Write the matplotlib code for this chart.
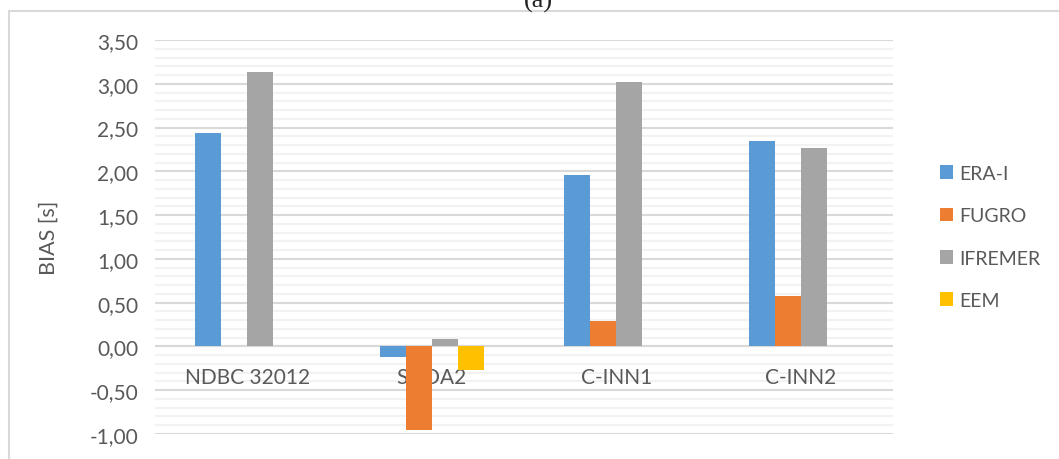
import matplotlib.pyplot as plt
import numpy as np
from matplotlib.patches import Rectangle
from matplotlib.ticker import MultipleLocator, FuncFormatter

estacoes = ['NDBC 32012', 'SHOA2', 'C-INN1', 'C-INN2']
era_i = [2.44, -0.12, 1.96, 2.35]
fugro = [np.nan, -0.95, 0.29, 0.58]
ifremer = [3.13, 0.09, 3.02, 2.27]
eem = [np.nan, -0.27, np.nan, np.nan]

series = {'ERA-I': era_i, 'FUGRO': fugro, 'IFREMER': ifremer, 'EEM': eem}
cores = ['#5B9BD5', '#ED7D31', '#A5A5A5', '#FFC000']

plt.rcParams['font.family'] = ['Lato', 'DejaVu Sans']
cinza = '#595959'

fig = plt.figure(figsize=(10.59, 4.60), dpi=100)
ax = fig.add_axes([155 / 1059, 1 - 435 / 460, 738 / 1059, 394 / 460])

x = np.arange(len(estacoes))
w = 0.141
for k, (nome, vals) in enumerate(series.items()):
    ax.bar(x + (k - 1.5) * w, vals, w, color=cores[k], label=nome, linewidth=0, zorder=3)

ax.set_xlim(-0.5, len(estacoes) - 0.5)
ax.set_ylim(-1.0, 3.5)
ax.yaxis.set_major_locator(MultipleLocator(0.5))
ax.yaxis.set_minor_locator(MultipleLocator(0.1))
ax.yaxis.set_major_formatter(FuncFormatter(lambda v, p: f'{v:.2f}'.replace('.', ',')))
ax.grid(True, which='major', axis='y', color='#d9d9d9', lw=1.5)
ax.grid(True, which='minor', axis='y', color='#f2f2f2', lw=1.5)
ax.axhline(0, color='#d9d9d9', lw=1.5, zorder=2.6)

for s in ax.spines.values():
    s.set_visible(False)
ax.set_xticks([])
# rótulos das categorias logo abaixo do zero, por cima da grelha e por baixo das barras
for xi, nome in zip(x, estacoes):
    ax.annotate(nome, (xi, 0), xytext=(0, -15), textcoords='offset points',
                ha='center', va='top', fontsize=15, color=cinza, zorder=2.7)
ax.tick_params(axis='y', which='both', length=0, pad=12, labelsize=15, labelcolor=cinza)

ax.set_ylabel('BIAS [s]', fontsize=15.5, color=cinza)
ax.yaxis.set_label_coords(-0.131, 0.5)

leg = fig.legend(loc='center left', bbox_to_anchor=(930 / 1059, 1 - 238 / 460),
                 frameon=False, fontsize=14, handlelength=0.7, handleheight=0.7,
                 handletextpad=0.3, labelspacing=1.3, borderpad=0)
for t in leg.get_texts():
    t.set_color(cinza)

fig.patches.append(Rectangle((9 / 1059, -0.1), 1.5, 1.1 - 12 / 460, fill=False,
                             edgecolor='#d9d9d9', lw=1.5, transform=fig.transFigure))
# título (a) cortado no topo, como na figura original
fig.text(538 / 1059, 1 - 8 / 460, '(a)', ha='center', va='baseline', fontsize=19,
         family=['Liberation Serif', 'DejaVu Serif'], color='#222222')

plt.savefig('out.png', dpi=100)
